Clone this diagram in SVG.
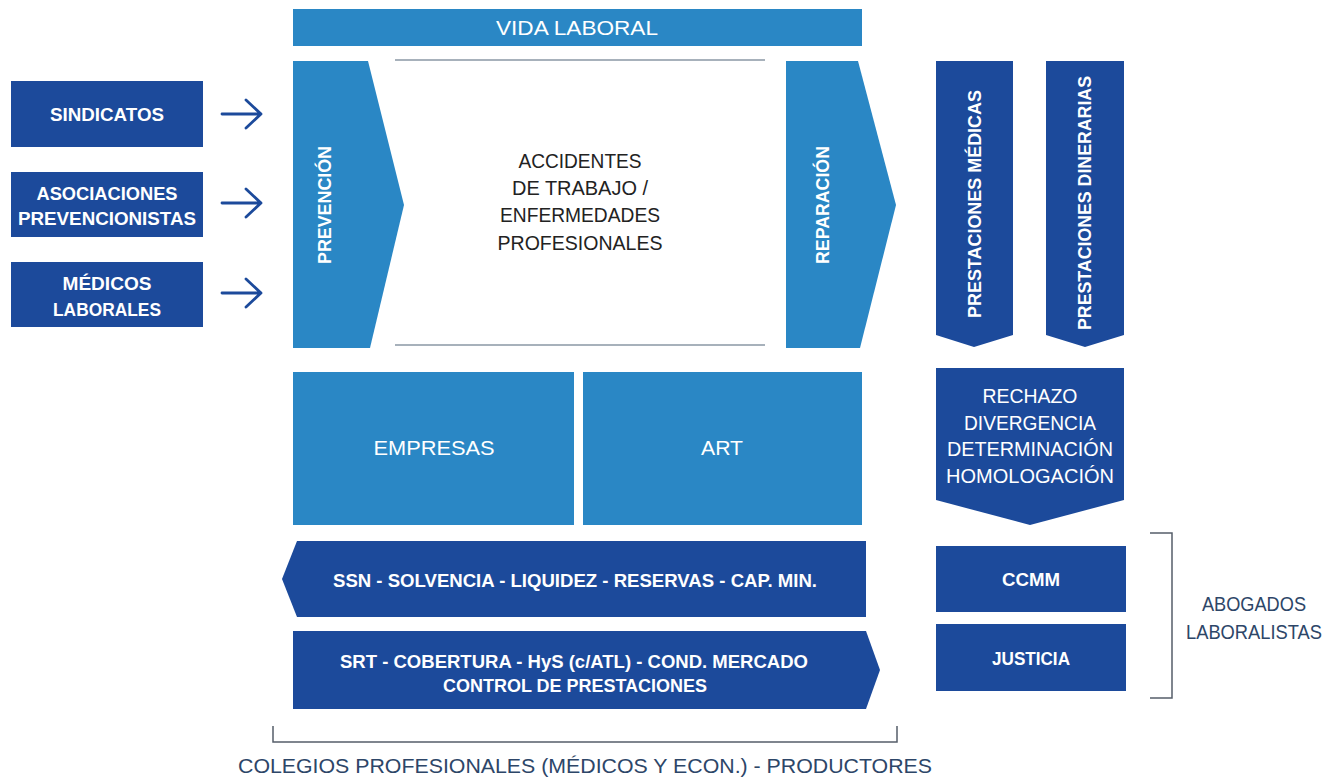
<svg xmlns="http://www.w3.org/2000/svg" width="1341" height="779" viewBox="0 0 1341 779">
<style>
.lb{fill:#2a87c5}
.db{fill:#1c4a9b}
.wb{fill:#fff;font-family:"Liberation Sans",Arial,sans-serif;font-weight:bold;font-size:19px;text-anchor:middle}
.wr{fill:#fff;font-family:"Liberation Sans",Arial,sans-serif;font-size:21px;text-anchor:middle}
.dr{fill:#222;font-family:"Liberation Sans",Arial,sans-serif;font-size:21px;text-anchor:middle}
.nr{fill:#2d4668;font-family:"Liberation Sans",Arial,sans-serif;font-size:21px;text-anchor:middle}
.gl{stroke:#8a97a5;stroke-width:1.5;fill:none}
.br{stroke:#555e6a;stroke-width:1.5;fill:none}
.ar{stroke:#1c4a9b;stroke-width:2.8;fill:none;stroke-linecap:round;stroke-linejoin:round}
</style>
<rect width="1341" height="779" fill="#fff"/>

<g id="vida-laboral">
<rect class="lb" x="293" y="9" width="569" height="37"/>
<text class="wr" x="577" y="35" textLength="162" lengthAdjust="spacingAndGlyphs">VIDA LABORAL</text>
</g>

<g id="sindicatos">
<rect class="db" x="11" y="81" width="192" height="66"/>
<text class="wb" x="107" y="121" textLength="114" lengthAdjust="spacingAndGlyphs">SINDICATOS</text>
</g>
<g id="asociaciones">
<rect class="db" x="11" y="172" width="192" height="65"/>
<text class="wb" x="107" y="200" textLength="141" lengthAdjust="spacingAndGlyphs">ASOCIACIONES</text>
<text class="wb" x="107" y="225" textLength="178" lengthAdjust="spacingAndGlyphs">PREVENCIONISTAS</text>
</g>
<g id="medicos">
<rect class="db" x="11" y="262" width="192" height="65"/>
<text class="wb" x="107" y="290" textLength="89" lengthAdjust="spacingAndGlyphs">MÉDICOS</text>
<text class="wb" x="107" y="316" textLength="108" lengthAdjust="spacingAndGlyphs">LABORALES</text>
</g>

<g id="connectors">
<path class="ar" d="M222,114 H261 M246,100 L261,114 L246,128"/>
<path class="ar" d="M222,203 H261 M246,189 L261,203 L246,217"/>
<path class="ar" d="M222,293 H261 M246,279 L261,293 L246,307"/>
</g>

<g id="prevencion">
<polygon class="lb" points="293,61 368,61 404,205 370,348 293,348"/>
<text class="wb" transform="translate(331,205) rotate(-90)" textLength="118" lengthAdjust="spacingAndGlyphs">PREVENCIÓN</text>
</g>

<g id="accidentes">
<line class="gl" x1="395" y1="60" x2="765" y2="60"/>
<line class="gl" x1="395" y1="345" x2="765" y2="345"/>
<text class="dr" x="580" y="168" textLength="123" lengthAdjust="spacingAndGlyphs">ACCIDENTES</text>
<text class="dr" x="580" y="195" textLength="136" lengthAdjust="spacingAndGlyphs">DE TRABAJO /</text>
<text class="dr" x="580" y="222" textLength="160" lengthAdjust="spacingAndGlyphs">ENFERMEDADES</text>
<text class="dr" x="580" y="250" textLength="165" lengthAdjust="spacingAndGlyphs">PROFESIONALES</text>
</g>

<g id="reparacion">
<polygon class="lb" points="786,61 858,61 896,205 860,348 786,348"/>
<text class="wb" transform="translate(829,205) rotate(-90)" textLength="118" lengthAdjust="spacingAndGlyphs">REPARACIÓN</text>
</g>

<g id="prestaciones-medicas">
<polygon class="db" points="936,61 1013,61 1013,335 974,347 936,335"/>
<text class="wb" transform="translate(981,204) rotate(-90)" textLength="228" lengthAdjust="spacingAndGlyphs">PRESTACIONES MÉDICAS</text>
</g>
<g id="prestaciones-dinerarias">
<polygon class="db" points="1046,61 1124,61 1124,335 1085,347 1046,335"/>
<text class="wb" transform="translate(1091,203) rotate(-90)" textLength="254" lengthAdjust="spacingAndGlyphs">PRESTACIONES DINERARIAS</text>
</g>

<g id="rechazo">
<polygon class="db" points="936,368 1124,368 1124,500 1030,525 936,500"/>
<text class="wr" x="1030" y="403" textLength="95" lengthAdjust="spacingAndGlyphs">RECHAZO</text>
<text class="wr" x="1030" y="430" textLength="132" lengthAdjust="spacingAndGlyphs">DIVERGENCIA</text>
<text class="wr" x="1030" y="456" textLength="166" lengthAdjust="spacingAndGlyphs">DETERMINACIÓN</text>
<text class="wr" x="1030" y="483" textLength="168" lengthAdjust="spacingAndGlyphs">HOMOLOGACIÓN</text>
</g>

<g id="empresas">
<rect class="lb" x="293" y="372" width="281" height="153"/>
<text class="wr" x="434" y="455" textLength="121" lengthAdjust="spacingAndGlyphs">EMPRESAS</text>
</g>
<g id="art">
<rect class="lb" x="583" y="372" width="279" height="153"/>
<text class="wr" x="722" y="455" textLength="42" lengthAdjust="spacingAndGlyphs">ART</text>
</g>

<g id="ssn">
<polygon class="db" points="297,541 866,541 866,617 297,617 282,579"/>
<text class="wb" x="575" y="587" textLength="484" lengthAdjust="spacingAndGlyphs">SSN - SOLVENCIA - LIQUIDEZ - RESERVAS - CAP. MIN.</text>
</g>
<g id="srt">
<polygon class="db" points="293,631 866,631 880,670 866,709 293,709"/>
<text class="wb" x="574" y="668" textLength="468" lengthAdjust="spacingAndGlyphs">SRT - COBERTURA - HyS (c/ATL) - COND. MERCADO</text>
<text class="wb" x="575" y="692" textLength="264" lengthAdjust="spacingAndGlyphs">CONTROL DE PRESTACIONES</text>
</g>

<g id="ccmm">
<rect class="db" x="936" y="546" width="190" height="66"/>
<text class="wb" x="1031" y="586" textLength="58" lengthAdjust="spacingAndGlyphs">CCMM</text>
</g>
<g id="justicia">
<rect class="db" x="936" y="624" width="190" height="67"/>
<text class="wb" x="1031" y="665" textLength="78" lengthAdjust="spacingAndGlyphs">JUSTICIA</text>
</g>

<g id="abogados">
<path class="br" d="M1150,533 H1172 V698 H1150"/>
<text class="nr" x="1254" y="611" font-size="18" textLength="104" lengthAdjust="spacingAndGlyphs">ABOGADOS</text>
<text class="nr" x="1254" y="639" font-size="18" textLength="136" lengthAdjust="spacingAndGlyphs">LABORALISTAS</text>
</g>

<g id="colegios">
<path class="br" d="M273,726 V742 H897 V726"/>
<text class="nr" x="585" y="773" textLength="694" lengthAdjust="spacingAndGlyphs">COLEGIOS PROFESIONALES (MÉDICOS Y ECON.) - PRODUCTORES</text>
</g>
</svg>
